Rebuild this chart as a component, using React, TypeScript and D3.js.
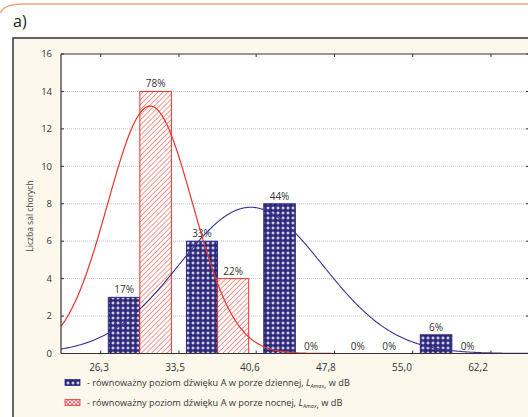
import React from 'react';
import * as d3 from 'd3';

const binEdges = [26.3, 33.5, 40.6, 47.8, 55.0, 62.2];
const tickLabels = ['26,3', '33,5', '40,6', '47,8', '55,0', '62,2'];
const dayCounts = [3, 6, 8, 0, 1];
const nightCounts = [14, 4, 0, 0, 0];
const dayPercents = ['17%', '33%', '44%', '0%', '6%'];
const nightPercents = ['78%', '22%', '0%', '0%', '0%'];
const yTicks = [0, 2, 4, 6, 8, 10, 12, 14, 16];
const dayFitMean = 40.1;
const dayFitSd = 6.6;
const nightFitMean = 30.85;
const nightFitSd = 3.9;
const sampleSize = 18;
const legendLabels = [
  '- równoważny poziom dźwięku A w porze dziennej, ',
  '- równoważny poziom dźwięku A w porze nocnej, ',
];

const W = 528;
const H = 417;
const FONT = "'Open Sans', 'Noto Sans', sans-serif";
const NAVY = '#2e2a7c';
const RED = '#e8352b';
const TXT = '#333';

export default function App() {
  const plotL = 61;
  const plotR = 528;
  const plotT = 54;
  const plotB = 353.5;
  const x = d3.scaleLinear().domain([26.3, 62.2]).range([100.7, 491]);
  const xLabel = d3.scaleLinear().domain([26.3, 62.2]).range([99, 478]);
  const y = d3.scaleLinear().domain([0, 16]).range([plotB, plotT]);

  const binW = (binEdges[binEdges.length - 1] - binEdges[0]) / (binEdges.length - 1);
  const normal = (v: number, m: number, s: number) =>
    (sampleSize * binW) / (s * Math.sqrt(2 * Math.PI)) * Math.exp(-((v - m) ** 2) / (2 * s * s));
  const xs = d3.range(x.invert(plotL), x.invert(plotR) + 0.1, 0.1);
  const mk = (m: number, s: number) =>
    d3.line<number>().x((v) => x(v)).y((v) => y(normal(v, m, s)))(xs) || '';

  const bins = dayCounts.map((c, i) => {
    const lo = binEdges[i];
    const hi = binEdges[i + 1];
    const cx = x((lo + hi) / 2);
    const hw = (x(hi) - x(lo)) * 0.403;
    return { i, cx, hw, day: c, night: nightCounts[i] };
  });

  return (
    <svg
      width={W}
      height={H}
      style={{ position: 'absolute', left: 0, top: 0, background: '#fff' }}
      fontFamily={FONT}
    >
      <defs>
        <pattern id="plus" width="5" height="5" patternUnits="userSpaceOnUse" x="0.5" y="0.5">
          <rect width="5" height="5" fill={NAVY} />
          <path d="M2,1h1v1h1v1h-1v1h-1v-1h-1v-1h1z" fill="#fff" />
        </pattern>
        <pattern id="hatch" width="3.6" height="3.6" patternUnits="userSpaceOnUse" patternTransform="rotate(45)">
          <rect width="3.6" height="3.6" fill="#fff" />
          <line x1="0" y1="0" x2="0" y2="3.6" stroke="#f06a5e" strokeWidth="1.4" />
        </pattern>
        <pattern id="cross" width="4" height="4" patternUnits="userSpaceOnUse">
          <rect width="4" height="4" fill="#fde" />
          <path d="M0,0L4,4M4,0L0,4" stroke="#ee5a50" strokeWidth="0.8" />
        </pattern>
        <clipPath id="plotClip">
          <rect x={plotL} y={plotT} width={plotR - plotL} height={plotB - plotT} />
        </clipPath>
      </defs>

      {/* outer orange frame */}
      <path d="M0.5,13 Q3,4.5 22,4 L528,4" fill="none" stroke="#f2a57c" strokeWidth="1.6" />
      <text x={13} y={27} fontSize={16} fill="#222">a)</text>

      {/* chart box */}
      <rect x={13} y={38} width={W} height={H} fill="#fdf8ec" stroke="#333" strokeWidth={1.5} />
      <rect x={plotL} y={plotT} width={plotR - plotL} height={plotB - plotT} fill="#fff" />

      {/* gridlines */}
      {yTicks.filter((t) => t > 0 && t < 16).map((t) => (
        <line key={t} x1={plotL} x2={plotR} y1={y(t)} y2={y(t)} stroke="#bbb" strokeWidth={0.8} strokeDasharray="1,1" />
      ))}

      {/* bars */}
      {bins.map((b) => (
        <g key={b.i}>
          {b.day > 0 && (
            <rect x={b.cx - b.hw} y={y(b.day)} width={b.hw} height={plotB - y(b.day)} fill="url(#plus)" stroke={NAVY} strokeWidth={1} />
          )}
          {b.night > 0 && (
            <rect x={b.cx} y={y(b.night)} width={b.hw} height={plotB - y(b.night)} fill="url(#hatch)" stroke={RED} strokeWidth={1} />
          )}
          <text x={b.cx - b.hw / 2} y={y(b.day) - 4} textAnchor="middle" fontSize={10} fill={TXT}>{dayPercents[b.i]}</text>
          <text x={b.cx + b.hw / 2} y={y(b.night) - 4} textAnchor="middle" fontSize={10} fill={TXT}>{nightPercents[b.i]}</text>
        </g>
      ))}

      {/* fitted curves */}
      <g clipPath="url(#plotClip)">
        <path d={mk(dayFitMean, dayFitSd)} fill="none" stroke="#3b3592" strokeWidth={1.1} />
        <path d={mk(nightFitMean, nightFitSd)} fill="none" stroke={RED} strokeWidth={1.2} />
      </g>

      {/* axes frame */}
      <line x1={plotL} x2={plotR} y1={plotT} y2={plotT} stroke="#333" strokeWidth={1.2} />
      <line x1={plotL} x2={plotR} y1={plotB} y2={plotB} stroke="#333" strokeWidth={1.2} />
      <line x1={plotL} x2={plotL} y1={plotT} y2={plotB} stroke="#333" strokeWidth={1.2} />

      {/* y ticks */}
      {yTicks.map((t) => (
        <g key={t}>
          <line x1={plotL} x2={plotL + 3} y1={y(t)} y2={y(t)} stroke="#333" strokeWidth={1} />
          <line x1={plotR - 2} x2={plotR} y1={y(t)} y2={y(t)} stroke="#333" strokeWidth={1} />
          <text x={52} y={y(t) + 3.3} textAnchor="end" fontSize={9.5} fill={TXT}>{t}</text>
        </g>
      ))}

      {/* x ticks */}
      {binEdges.map((v, i) => (
        <g key={v}>
          <line x1={x(v)} x2={x(v)} y1={plotB} y2={plotB - 3} stroke="#333" strokeWidth={1} />
          <line x1={x(v)} x2={x(v)} y1={plotT} y2={plotT + 3} stroke="#333" strokeWidth={1} />
          <text x={xLabel(v)} y={370.5} textAnchor="middle" fontSize={10} fill={TXT}>{tickLabels[i]}</text>
        </g>
      ))}

      {/* y title */}
      <text
        transform={`translate(32.5,216) rotate(-90)`}
        textAnchor="middle"
        fontSize={8.5}
        fill="#444"
      >
        Liczba sal chorych
      </text>

      {/* legend */}
      {legendLabels.map((lbl, i) => {
        const ly = 383 + i * 20;
        return (
          <g key={i}>
            <rect x={65} y={ly - 3.5} width={15} height={6} fill={i === 0 ? 'url(#plus)' : 'url(#cross)'} stroke={i === 0 ? NAVY : RED} strokeWidth={0.8} />
            <text x={87} y={ly + 3} fontSize={9.2} fill={TXT}>
              {lbl}
              <tspan fontStyle="italic">L</tspan>
              <tspan fontStyle="italic" fontSize={5.5} dy={2}>Amax</tspan>
              <tspan fontSize={9.2}>,</tspan>
              <tspan dy={-2}> w dB</tspan>
            </text>
          </g>
        );
      })}
    </svg>
  );
}
